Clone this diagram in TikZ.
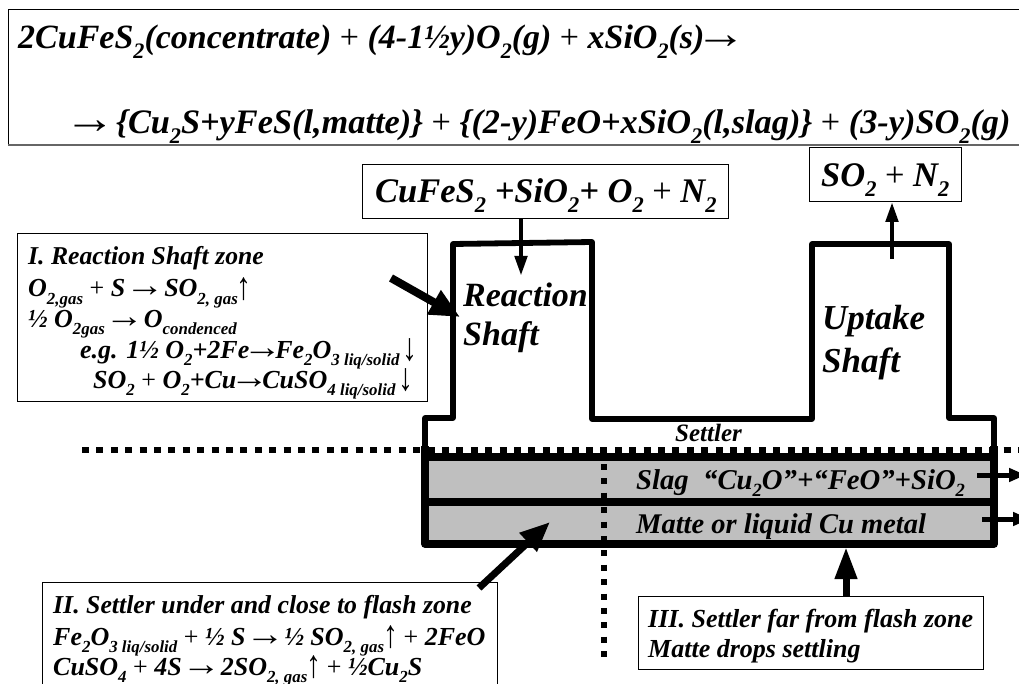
\documentclass[tikz,border=0pt]{standalone}
\usepackage{graphicx}
\usepackage{fontspec}
\setmainfont{Liberation Serif}
\usetikzlibrary{arrows.meta, positioning}

\newcommand{\low}[1]{\raisebox{-.27em}{\scalebox{.65}{#1}}}
\newcommand{\fsz}[1]{\fontsize{#1}{#1}\selectfont\bfseries\itshape}
\newcommand{\plainsym}[1]{{\mdseries\upshape #1}}
\newcommand{\plus}{\plainsym{+}}
\newcommand{\arr}{\makebox[1em]{\scalebox{1.5}[1.3]{\plainsym{→}}}}
\newcommand{\upa}{\makebox[.5em]{\raisebox{-.08em}{\scalebox{1.15}[1.5]{\plainsym{↑}}}}}
\newcommand{\dna}{\makebox[.5em]{\raisebox{-.08em}{\scalebox{1.15}[1.5]{\plainsym{↓}}}}}

\tikzset{
    txt/.style={inner sep=0pt, anchor=base west, font=\fsz{#1}},
    txt/.default=26,
    note/.style={draw, rectangle, anchor=north west, inner sep=0pt, line width=.9pt},
    wall/.style={line width=5.8pt, line join=round},
    lining/.style={line width=7.5pt, line join=round},
    zone/.style={line width=6pt, dash pattern=on 7pt off 7.4pt},
    thinarrow/.style={line width=4.5pt, -{Triangle[length=20pt,width=12pt]}},
    flowarrow/.style={line width=5pt, -{Triangle[length=17pt,width=13pt]}},
    fatarrow/.style={line width=7pt, -{Triangle[length=32pt,width=21pt]}}
}

\begin{document}
\begin{tikzpicture}[x=1pt, y=-1pt]
        \useasboundingbox (0,0) rectangle (1019,684);

        % Reaction
        \node[note, minimum width=1100pt, minimum height=135.5pt] (frame) at (8,9) {};
        \draw[line width=1.8pt, black!60] (frame.south west) -- (frame.south east);
        \node[txt=34] (eqtop) at (18,49) {2CuFeS\low{2}(concentrate) \plus{} (4-1½y)O\low{2}(g) \plus{} xSiO\low{2}(s)\arr};
        \node[txt=34.3] (eqbot) at (73,134) {\arr{} \{Cu\low{2}S+yFeS(l,matte)\} \plus{} \{(2-y)FeO+xSiO\low{2}(l,slag)\} \plus{} (3-y)SO\low{2}(g)};

        % Furnace
        \fill[black!25] (425,457) rectangle (994,544);
        \draw[wall] (425,450) -- (425,418) -- (453,418) -- (453,244) -- (592,242) -- (592,419) -- (812,419) -- (812,244) -- (949,244) -- (949,418) -- (994,418) -- (994,450);
        \draw[lining] (425,446) -- (425,544) -- (994,544) -- (994,446);
        \draw[lining] (425,457) -- (994,457);
        \draw[lining] (425,502) -- (994,502);
        \draw[zone] (82,450) -- (1019,450);
        \draw[zone, dash pattern=on 6pt off 8.4pt] (604,449.5) -- (604,657);

        % Labels in the furnace
        \node[txt=34] (reaction) at (463,306) {Reaction};
        \node[txt=34] (shaft) at (463,345) {Shaft};
        \node[txt=35] (uptake) at (822,329) {Uptake};
        \node[txt=35] (shaftb) at (822,372) {Shaft};
        \node[txt=25] (settler) at (675,441) {Settler};
        \node[txt=28.7] (slag) at (636,489) {Slag\ \ “Cu\low{2}O”+“FeO”+SiO\low{2}};
        \node[txt=28.5] (matte) at (636,533) {Matte or liquid Cu metal};

        % Feed and off gas
        \node[note, minimum width=366pt, minimum height=54pt] (feed) at (362,164) {};
        \node[txt=34.5] (feedtxt) at (375,203) {CuFeS\low{2} +SiO\low{2}+ O\low{2} \plus{} N\low{2}};
        \node[note, minimum width=152pt, minimum height=54pt] (offgas) at (809,147) {};
        \node[txt=34.5] (offgastxt) at (821,187) {SO\low{2} \plus{} N\low{2}};
        \coordinate (feedtip) at (521,276);
        \coordinate (gastail) at (892,259);
        \draw[thinarrow] (feedtip |- feed.south) -- (feedtip);
        \draw[thinarrow] (gastail) -- (gastail |- offgas.south);

        % Zone I
        \node[note, minimum width=410pt, minimum height=168pt] (zoneone) at (17,233) {};
        \node[txt=25.7] (onea) at (28,265) {I. Reaction Shaft zone};
        \node[txt=26] (oneb) at (28,297) {O\low{2,gas} \plus{} S \arr{} SO\low{2, gas}\upa};
        \node[txt=26] (onec) at (28,327) {½ O\low{2gas} \arr{} O\low{condenced}};
        \node[txt=26] (oned) at (80,358) {e.g. 1½ O\low{2}+2Fe\arr{}Fe\low{2}O\low{3 liq/solid}\,\dna};
        \node[txt=26] (onee) at (93,388) {SO\low{2} \plus{} O\low{2}+Cu\arr{}CuSO\low{4 liq/solid}\,\dna};
        \coordinate (onetail) at (391,278);
        \coordinate (onetip) at (460,317);
        \draw[fatarrow, line width=8pt, -{Triangle[length=30pt,width=26pt]}] (onetail) -- (onetip);

        % Zone II
        \node[note, minimum width=455pt, minimum height=130pt] (zonetwo) at (42,582) {};
        \node[txt=25.8] (twoa) at (53,613) {II. Settler under and close to flash zone};
        \node[txt=26] (twob) at (53,645) {Fe\low{2}O\low{3 liq/solid} \plus{} ½ S \arr{} ½ SO\low{2, gas}\upa{} \plus{} 2FeO};
        \node[txt=26] (twoc) at (53,675) {CuSO\low{4} \plus{} 4S \arr{} 2SO\low{2, gas}\upa{} \plus{} ½Cu\low{2}S};
        \coordinate (twotail) at (479,588);
        \coordinate (twotip) at (550,522);
        \draw[fatarrow, -{Triangle[length=30pt,width=24pt]}] (twotail) -- (twotip);

        % Zone III
        \node[note, minimum width=345pt, minimum height=73pt] (zonethree) at (638,596) {};
        \node[txt=26] (threea) at (648,627) {III. Settler far from flash zone};
        \node[txt=26] (threeb) at (648,657) {Matte drops settling};
        \coordinate (threetip) at (846,547);
        \draw[fatarrow] (threetip |- zonethree.north) -- (threetip);

        % Tapping
        \coordinate (slagtail) at (977,475);
        \coordinate (slagtip) at (1026,475);
        \coordinate (mattetail) at (982,519);
        \coordinate (mattetip) at (1030,519);
        \draw[flowarrow] (slagtail) -- (slagtip);
        \draw[flowarrow] (mattetail) -- (mattetip);
\end{tikzpicture}
\end{document}
